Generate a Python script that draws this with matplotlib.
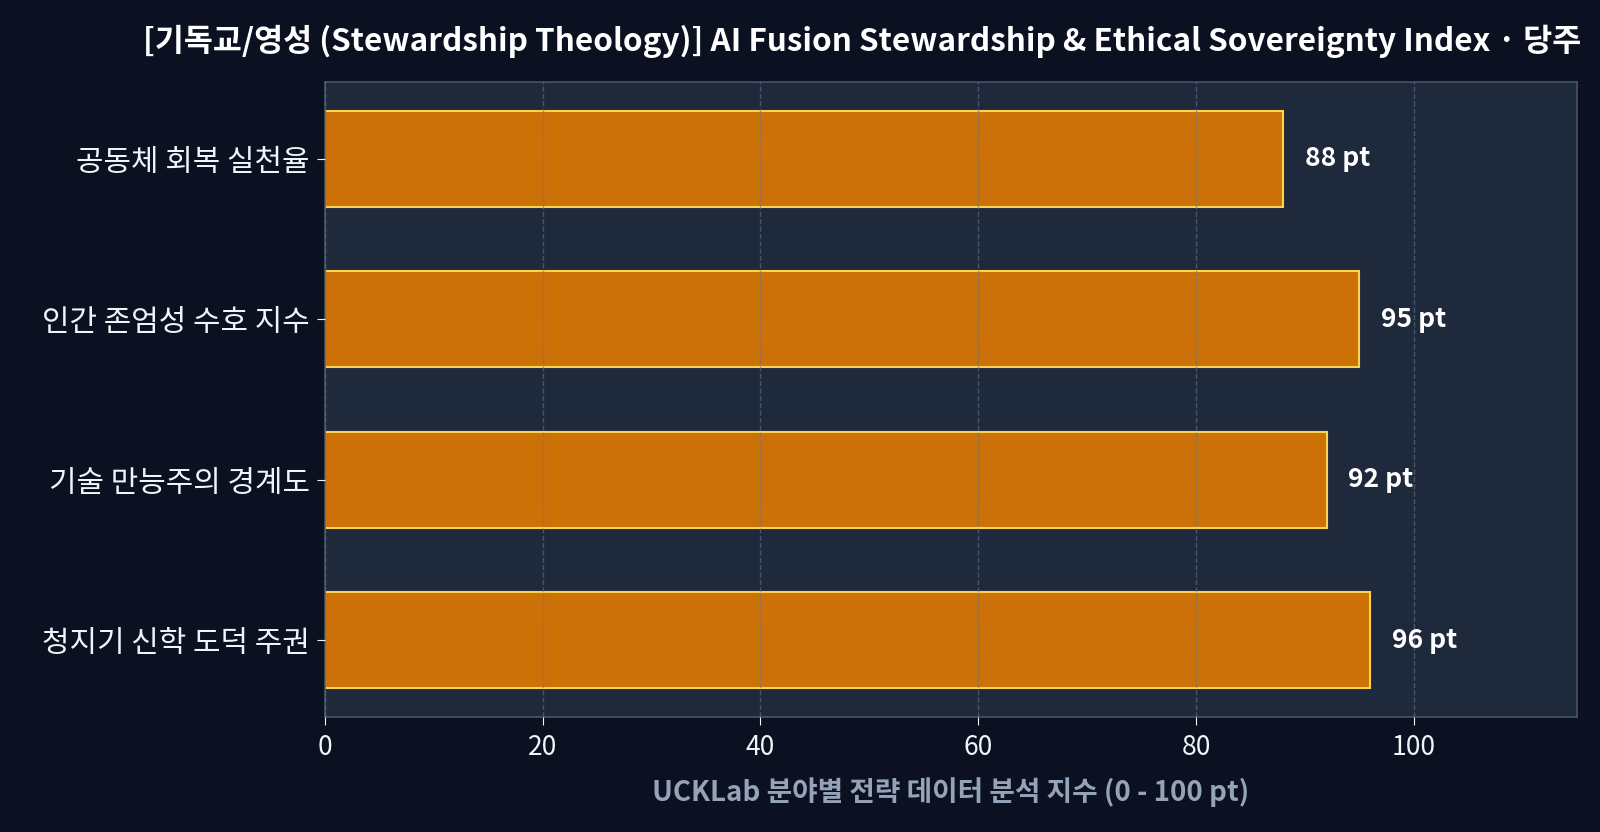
import matplotlib
matplotlib.use("Agg")
import matplotlib.pyplot as plt

plt.rcParams['font.family'] = ['Noto Sans CJK KR', 'DejaVu Sans']

categories = ["공동체 회복 실천율", "인간 존엄성 수호 지수", "기술 만능주의 경계도", "청지기 신학 도덕 주권"]
values = [88, 95, 92, 96]
xticks = [0, 20, 40, 60, 80, 100]

title = "[기독교/영성 (Stewardship Theology)] AI Fusion Stewardship & Ethical Sovereignty Index · 당주"
xlabel = "UCKLab 분야별 전략 데이터 분석 지수 (0 - 100 pt)"

BG = "#0b1120"
PANEL = "#1e293b"
SPINE = "#475569"

fig = plt.figure(figsize=(16, 8.32), dpi=100, facecolor=BG)
ax = fig.add_axes([325 / 1600, 1 - 717 / 832, (1577 - 325) / 1600, (717 - 82) / 832])
ax.set_facecolor(PANEL)

ypos = list(range(len(categories)))
bars = ax.barh(ypos, values, height=0.6, color="#cc7108", edgecolor="#fcd34d", linewidth=1.5, zorder=2)
ax.set_yticks(ypos)
ax.set_yticklabels(categories, fontsize=21.5, color="#f1f5f9")
ax.invert_yaxis()

for b, v in zip(bars, values):
    ax.text(v + 2, b.get_y() + b.get_height() / 2, f"{v} pt", va="center", ha="left",
            fontsize=19, fontweight="bold", color="white", zorder=3)

ax.set_xlim(0, 115)
ax.set_xticks(xticks)
ax.tick_params(axis="x", labelsize=19, colors="#f1f5f9", length=6, pad=6)
ax.tick_params(axis="y", colors="#f1f5f9", length=6, pad=5)

ax.grid(axis="x", linestyle="--", color="#64748b", alpha=0.6, linewidth=1, zorder=2.5)
ax.set_axisbelow(False)

for s in ax.spines.values():
    s.set_color(SPINE)
    s.set_linewidth(1.2)

ax.set_xlabel(xlabel, fontsize=20, fontweight="bold", color="#94a3b8", labelpad=12)

fig.text(862 / 1600, 1 - 41 / 832, title, ha="center", va="center",
         fontsize=22.7, fontweight="bold", color="white")

fig.savefig("out.png", dpi=100, facecolor=BG)
